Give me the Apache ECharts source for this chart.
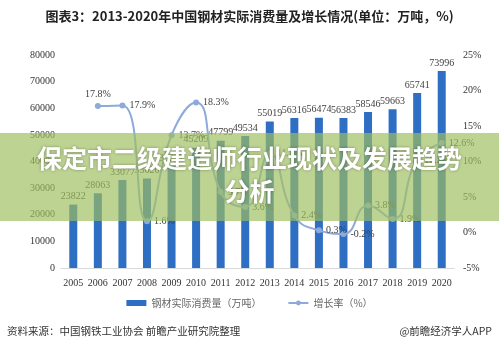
<!DOCTYPE html>
<html>
<head>
<meta charset="utf-8">
<script src="https://cdn.jsdelivr.net/npm/echarts@6/dist/echarts.min.js"></script>
<style>
    html, body { margin: 0; padding: 0; background: #fff; }
    #chart { width: 499px; height: 354px; }
</style>
</head>
<body>
<div id="chart"></div>
<script>
// 年份
var years = ['2005', '2006', '2007', '2008', '2009', '2010', '2011', '2012',
    '2013', '2014', '2015', '2016', '2017', '2018', '2019', '2020'];
// 钢材实际消费量（万吨）
var amount = [23822, 28063, 33077, 33620, 38227, 45209, 47799, 49534,
    55019, 56316, 56474, 56383, 58546, 59663, 65741, 73996];
// 增长率（%），2005年无数据
var rate = [null, 17.8, 17.9, 1.6, 13.7, 18.3, 5.7, 3.6,
    11.1, 2.4, 0.3, -0.2, 3.8, 1.9, 10.2, 12.6];
// 坐标轴刻度
var leftTicks = [0, 80000, 10000];
var rightTicks = [-5, 25, 5];

var serif = '"Liberation Serif", "DejaVu Serif", serif';
var sans = '"Noto Sans CJK SC", sans-serif';

function chart() {
    var myChart = echarts.init(document.getElementById('chart'));
    var rateData = [];
    for (var i = 0; i < rate.length; i++) {
        var item = { value: rate[i] };
        if (i == 1) {
            item.label = { position: 'top' };
        }
        rateData.push(item);
    }
    var option = {
        backgroundColor: '#fff',
        animation: false,
        title: {
            text: '图表3：2013-2020年中国钢材实际消费量及增长情况(单位：万吨，%)',
            left: 'center',
            top: 5,
            textStyle: { fontFamily: sans, fontSize: 13, fontWeight: 'bold', color: '#222' }
        },
        grid: { left: 61, right: 45, top: 55, bottom: 86 },
        legend: {
            top: 293,
            left: 'center',
            itemGap: 26,
            textStyle: { fontFamily: sans, fontSize: 10, color: '#666' },
            data: [
                { name: '钢材实际消费量（万吨）', icon: 'rect', itemStyle: { color: '#2e6fc4' } },
                { name: '增长率（%）' }
            ],
            itemWidth: 20,
            itemHeight: 6
        },
        xAxis: [{
            type: 'category',
            data: years,
            axisTick: { show: false },
            axisLine: { lineStyle: { color: '#d9d9d9' } },
            axisLabel: { fontFamily: serif, fontSize: 10, color: '#333', margin: 10, interval: 0 }
        }],
        yAxis: [{
            type: 'value',
            min: leftTicks[0],
            max: leftTicks[1],
            interval: leftTicks[2],
            splitLine: { show: false },
            axisLabel: {
                fontFamily: serif, fontSize: 10, color: '#333', margin: 6,
                formatter: function (v) { return String(v); }
            }
        }, {
            type: 'value',
            min: rightTicks[0],
            max: rightTicks[1],
            interval: rightTicks[2],
            splitLine: { show: false },
            axisLabel: { fontFamily: serif, fontSize: 10, color: '#333', margin: 9, formatter: '{value}%' }
        }],
        series: [{
            name: '钢材实际消费量（万吨）',
            type: 'bar',
            barWidth: 8,
            itemStyle: { color: '#2e6fc4' },
            label: {
                show: true, position: 'top', distance: 3, fontFamily: serif, fontSize: 10, color: '#404040',
                formatter: function (p) { return String(p.value); }
            },
            data: amount
        }, {
            name: '增长率（%）',
            type: 'line',
            yAxisIndex: 1,
            smooth: 0.5,
            symbol: 'circle',
            symbolSize: 6,
            lineStyle: { color: '#8eaadb', width: 2 },
            itemStyle: { color: '#8eaadb' },
            label: {
                show: true, position: 'right', distance: 4,
                fontFamily: serif, fontSize: 10, color: '#404040',
                formatter: '{c}%'
            },
            data: rateData
        }],
        graphic: [
            // 来源
            {
                type: 'text', left: 7, top: 326,
                style: { text: '资料来源：中国钢铁工业协会 前瞻产业研究院整理', fontFamily: sans, fontSize: 10.5, fill: '#333' }
            },
            {
                type: 'text', right: 7, top: 326,
                style: { text: '@前瞻经济学人APP', fontFamily: sans, fontSize: 10.5, fill: '#333' }
            },
            // 文章标题横幅
            {
                type: 'rect', left: 0, top: 133, z: 100,
                shape: { width: 499, height: 88 },
                style: { fill: 'rgba(158,190,95,0.68)' }
            },
            {
                type: 'text', left: 'center', top: 146, z: 101,
                style: {
                    text: '保定市二级建造师行业现状及发展趋势', fontFamily: sans, fontSize: 25, fontWeight: 'bold',
                    fill: '#fff', textShadowColor: 'rgba(0,0,0,0.35)', textShadowBlur: 3
                }
            },
            {
                type: 'text', left: 'center', top: 179, z: 101,
                style: {
                    text: '分析', fontFamily: sans, fontSize: 25, fontWeight: 'bold',
                    fill: '#fff', textShadowColor: 'rgba(0,0,0,0.35)', textShadowBlur: 3
                }
            }
        ]
    };
    myChart.setOption(option);
}

chart();
</script>
</body>
</html>
